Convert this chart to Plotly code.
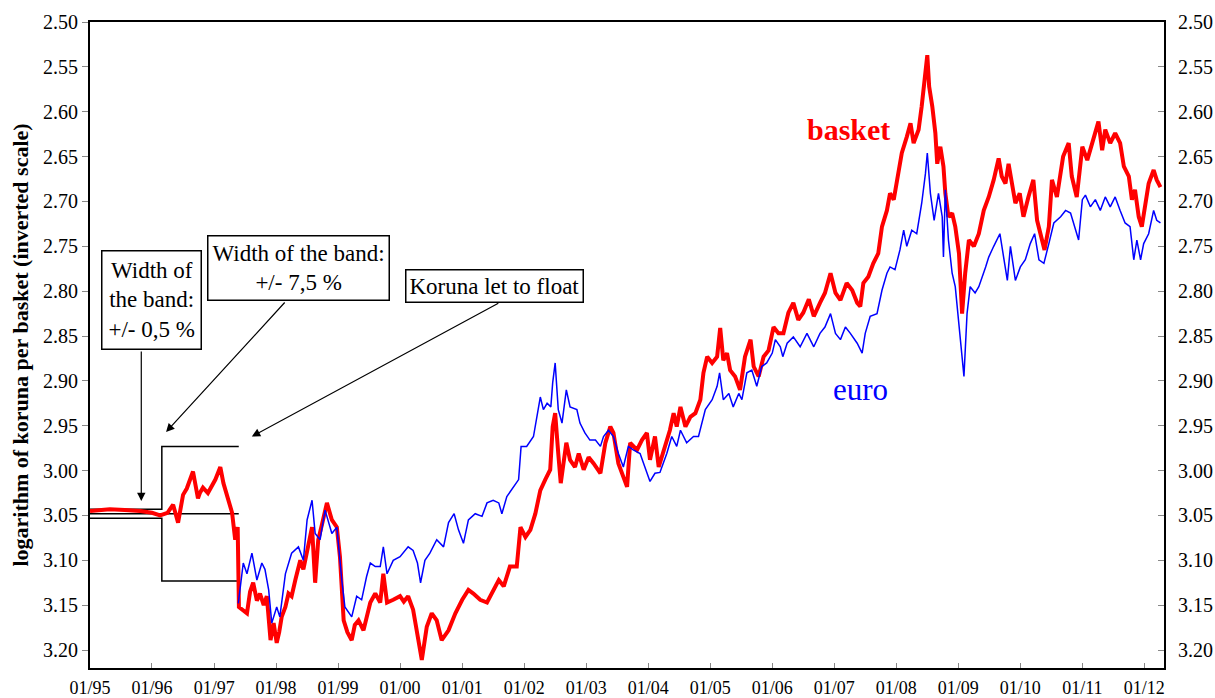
import pandas as pd
import plotly.graph_objects as go

# ---------------- data (decimal years, log koruna per basket) ----------------
basket_t = [1995.00, 1995.32, 1995.56, 1995.81, 1996.00, 1996.13, 1996.25, 1996.34, 1996.42, 1996.50,
            1996.56, 1996.66, 1996.74, 1996.77, 1996.82, 1996.90, 1997.02, 1997.10, 1997.15, 1997.21,
            1997.29, 1997.34, 1997.38, 1997.40, 1997.53, 1997.58, 1997.63, 1997.69, 1997.74, 1997.80,
            1997.85, 1997.91, 1997.96, 1998.01, 1998.05, 1998.09, 1998.15, 1998.20, 1998.25, 1998.31,
            1998.39, 1998.44, 1998.50, 1998.58, 1998.63, 1998.68, 1998.74, 1998.82, 1998.90, 1998.98,
            1999.03, 1999.09, 1999.15, 1999.22, 1999.27, 1999.33, 1999.41, 1999.47, 1999.52, 1999.60,
            1999.68, 1999.73, 1999.79, 1999.89, 2000.00, 2000.06, 2000.13, 2000.21, 2000.28, 2000.35,
            2000.43, 2000.51, 2000.59, 2000.67, 2000.78, 2000.89, 2001.00, 2001.10, 2001.18, 2001.29,
            2001.40, 2001.50, 2001.59, 2001.67, 2001.77, 2001.88, 2001.94, 2002.02, 2002.10, 2002.18,
            2002.26, 2002.34, 2002.42, 2002.46, 2002.50, 2002.55, 2002.59, 2002.68, 2002.74, 2002.82,
            2002.88, 2002.96, 2003.04, 2003.12, 2003.23, 2003.31, 2003.39, 2003.44, 2003.52, 2003.60,
            2003.66, 2003.71, 2003.82, 2003.90, 2003.98, 2004.03, 2004.11, 2004.17, 2004.27, 2004.35,
            2004.41, 2004.46, 2004.52, 2004.60, 2004.68, 2004.76, 2004.84, 2004.89, 2004.95, 2005.03,
            2005.11, 2005.16, 2005.21, 2005.27, 2005.32, 2005.40, 2005.48, 2005.56, 2005.65, 2005.70,
            2005.78, 2005.86, 2005.94, 2006.02, 2006.10, 2006.18, 2006.26, 2006.34, 2006.42, 2006.50,
            2006.59, 2006.67, 2006.77, 2006.85, 2006.94, 2007.02, 2007.10, 2007.20, 2007.29, 2007.37,
            2007.42, 2007.47, 2007.55, 2007.63, 2007.71, 2007.77, 2007.85, 2007.90, 2007.96, 2008.02,
            2008.09, 2008.17, 2008.23, 2008.28, 2008.36, 2008.41, 2008.47, 2008.50, 2008.53, 2008.58,
            2008.63, 2008.66, 2008.71, 2008.76, 2008.79, 2008.84, 2008.90, 2008.95, 2009.01, 2009.06,
            2009.11, 2009.17, 2009.25, 2009.33, 2009.41, 2009.49, 2009.57, 2009.65, 2009.70, 2009.76,
            2009.81, 2009.87, 2009.92, 2009.99, 2010.05, 2010.13, 2010.21, 2010.27, 2010.32, 2010.39,
            2010.46, 2010.51, 2010.59, 2010.69, 2010.78, 2010.83, 2010.91, 2011.00, 2011.08, 2011.16,
            2011.26, 2011.32, 2011.37, 2011.45, 2011.53, 2011.61, 2011.67, 2011.75, 2011.80, 2011.85,
            2011.91, 2011.96, 2012.02, 2012.07, 2012.15, 2012.20, 2012.26]
basket_v = [3.045, 3.043, 3.044, 3.045, 3.047, 3.050, 3.047, 3.038, 3.058, 3.027,
            3.020, 3.001, 3.031, 3.025, 3.019, 3.025, 3.010, 2.996, 3.014, 3.029,
            3.047, 3.077, 3.063, 3.152, 3.159, 3.135, 3.125, 3.145, 3.137, 3.150,
            3.140, 3.189, 3.170, 3.192, 3.180, 3.163, 3.152, 3.137, 3.140, 3.122,
            3.100, 3.110, 3.089, 3.063, 3.125, 3.077, 3.060, 3.036, 3.055, 3.063,
            3.096, 3.167, 3.180, 3.189, 3.172, 3.167, 3.178, 3.160, 3.147, 3.137,
            3.147, 3.115, 3.147, 3.144, 3.140, 3.146, 3.140, 3.155, 3.181, 3.211,
            3.174, 3.159, 3.167, 3.189, 3.178, 3.159, 3.144, 3.133, 3.137, 3.144,
            3.147, 3.133, 3.122, 3.129, 3.107, 3.107, 3.063, 3.074, 3.066, 3.048,
            3.022, 3.010, 2.999, 2.951, 2.936, 2.981, 3.014, 2.969, 2.988, 2.996,
            2.981, 2.999, 2.985, 2.992, 3.003, 2.969, 2.951, 2.958, 2.992, 3.007,
            3.018, 2.969, 2.977, 2.966, 2.958, 2.988, 2.962, 2.996, 2.973, 2.955,
            2.936, 2.951, 2.929, 2.951, 2.940, 2.936, 2.921, 2.891, 2.873, 2.880,
            2.873, 2.841, 2.877, 2.869, 2.888, 2.895, 2.910, 2.873, 2.854, 2.884,
            2.895, 2.873, 2.866, 2.840, 2.847, 2.847, 2.824, 2.813, 2.832, 2.824,
            2.809, 2.828, 2.813, 2.802, 2.780, 2.802, 2.810, 2.791, 2.799, 2.813,
            2.817, 2.791, 2.784, 2.769, 2.758, 2.728, 2.710, 2.691, 2.698, 2.676,
            2.646, 2.628, 2.613, 2.635, 2.620, 2.594, 2.557, 2.537, 2.572, 2.594,
            2.624, 2.658, 2.639, 2.661, 2.691, 2.717, 2.713, 2.728, 2.758, 2.825,
            2.780, 2.743, 2.750, 2.736, 2.710, 2.695, 2.676, 2.652, 2.672, 2.680,
            2.658, 2.684, 2.702, 2.691, 2.717, 2.695, 2.676, 2.721, 2.736, 2.754,
            2.728, 2.676, 2.695, 2.650, 2.635, 2.672, 2.695, 2.639, 2.654, 2.635,
            2.611, 2.643, 2.620, 2.635, 2.624, 2.635, 2.661, 2.672, 2.698, 2.687,
            2.717, 2.728, 2.698, 2.680, 2.665, 2.676, 2.684]

euro_t = [1997.39, 1997.47, 1997.53, 1997.61, 1997.69, 1997.77, 1997.82, 1997.88, 1997.93, 1998.01,
          1998.06, 1998.15, 1998.25, 1998.36, 1998.44, 1998.50, 1998.58, 1998.63, 1998.71, 1998.79,
          1998.90, 1998.98, 1999.06, 1999.11, 1999.22, 1999.30, 1999.38, 1999.46, 1999.52, 1999.60,
          1999.68, 1999.73, 1999.79, 1999.89, 2000.00, 2000.13, 2000.21, 2000.28, 2000.33, 2000.40,
          2000.48, 2000.59, 2000.70, 2000.78, 2000.87, 2000.94, 2001.02, 2001.10, 2001.21, 2001.32,
          2001.40, 2001.50, 2001.59, 2001.64, 2001.72, 2001.83, 2001.91, 2001.95, 2002.04, 2002.15,
          2002.20, 2002.26, 2002.31, 2002.37, 2002.43, 2002.46, 2002.50, 2002.55, 2002.61, 2002.68,
          2002.74, 2002.85, 2002.90, 2002.98, 2003.06, 2003.15, 2003.23, 2003.28, 2003.36, 2003.44,
          2003.52, 2003.60, 2003.68, 2003.76, 2003.87, 2003.95, 2004.03, 2004.11, 2004.19, 2004.30,
          2004.38, 2004.46, 2004.52, 2004.62, 2004.73, 2004.81, 2004.92, 2005.03, 2005.11, 2005.15,
          2005.21, 2005.30, 2005.37, 2005.46, 2005.51, 2005.59, 2005.67, 2005.75, 2005.83, 2005.91,
          2006.00, 2006.05, 2006.13, 2006.17, 2006.24, 2006.34, 2006.45, 2006.56, 2006.67, 2006.77,
          2006.85, 2006.94, 2007.02, 2007.10, 2007.18, 2007.26, 2007.37, 2007.45, 2007.50, 2007.58,
          2007.69, 2007.77, 2007.85, 2007.90, 2007.98, 2008.06, 2008.12, 2008.17, 2008.25, 2008.33,
          2008.41, 2008.47, 2008.50, 2008.55, 2008.61, 2008.68, 2008.74, 2008.76, 2008.79, 2008.84,
          2008.90, 2008.95, 2009.01, 2009.06, 2009.09, 2009.14, 2009.19, 2009.27, 2009.33, 2009.44,
          2009.49, 2009.57, 2009.67, 2009.73, 2009.79, 2009.84, 2009.92, 2010.00, 2010.08, 2010.16,
          2010.23, 2010.30, 2010.38, 2010.46, 2010.54, 2010.65, 2010.73, 2010.81, 2010.89, 2010.94,
          2011.00, 2011.05, 2011.13, 2011.21, 2011.29, 2011.37, 2011.45, 2011.53, 2011.61, 2011.69,
          2011.77, 2011.83, 2011.88, 2011.94, 2011.99, 2012.07, 2012.15, 2012.20, 2012.26]
euro_v = [3.148, 3.103, 3.115, 3.092, 3.122, 3.103, 3.110, 3.133, 3.170, 3.152,
          3.163, 3.115, 3.092, 3.085, 3.100, 3.055, 3.033, 3.070, 3.077, 3.044,
          3.070, 3.063, 3.122, 3.152, 3.163, 3.140, 3.144, 3.118, 3.103, 3.107,
          3.107, 3.085, 3.115, 3.100, 3.096, 3.085, 3.089, 3.103, 3.125, 3.100,
          3.092, 3.077, 3.085, 3.058, 3.048, 3.066, 3.081, 3.055, 3.048, 3.051,
          3.036, 3.033, 3.036, 3.048, 3.029, 3.018, 3.010, 2.973, 2.973, 2.962,
          2.944, 2.918, 2.932, 2.925, 2.929, 2.902, 2.880, 2.932, 2.947, 2.910,
          2.929, 2.932, 2.947, 2.958, 2.966, 2.966, 2.973, 2.962, 2.955, 2.962,
          2.981, 2.996, 2.973, 2.977, 2.981, 2.996, 3.012, 3.003, 3.002, 2.981,
          2.962, 2.973, 2.955, 2.969, 2.962, 2.962, 2.932, 2.921, 2.906, 2.891,
          2.921, 2.914, 2.929, 2.914, 2.921, 2.891, 2.888, 2.906, 2.884, 2.880,
          2.869, 2.854, 2.862, 2.873, 2.858, 2.851, 2.862, 2.847, 2.862, 2.847,
          2.840, 2.825, 2.847, 2.854, 2.840, 2.847, 2.858, 2.869, 2.847, 2.828,
          2.825, 2.799, 2.780, 2.773, 2.776, 2.754, 2.732, 2.750, 2.732, 2.736,
          2.702, 2.669, 2.646, 2.691, 2.721, 2.691, 2.717, 2.762, 2.687, 2.743,
          2.780, 2.795, 2.836, 2.873, 2.895, 2.825, 2.795, 2.802, 2.795, 2.773,
          2.762, 2.750, 2.736, 2.762, 2.788, 2.750, 2.788, 2.773, 2.765, 2.747,
          2.736, 2.765, 2.769, 2.747, 2.724, 2.717, 2.710, 2.713, 2.732, 2.743,
          2.698, 2.693, 2.706, 2.698, 2.710, 2.695, 2.706, 2.695, 2.710, 2.724,
          2.728, 2.765, 2.743, 2.765, 2.747, 2.736, 2.710, 2.721, 2.724]

# exchange-rate band: regime dates, central parity and half-widths
band_dates = ["1995-01-01", "1996-02-28", "1997-05-26"]
central_parity = 3.048
narrow_halfwidth = 0.005
wide_halfwidth = 0.075

y_ticks = [2.50, 2.55, 2.60, 2.65, 2.70, 2.75, 2.80, 2.85, 2.90, 2.95, 3.00, 3.05, 3.10, 3.15, 3.20]
x_ticks = [f"{y}-01-01" for y in range(1995, 2013)]
x_labels = [f"01/{str(y)[2:]}" for y in range(1995, 2013)]


def to_date(t):
    y = int(t)
    start = pd.Timestamp(y, 1, 1)
    end = pd.Timestamp(y + 1, 1, 1)
    return start + (end - start) * (t - y)


basket_x = [to_date(t) for t in basket_t]
euro_x = [to_date(t) for t in euro_t]

FONT = "Liberation Serif"
fig = go.Figure()

# band lines
d0, d1, d2 = band_dates
up_n = central_parity - narrow_halfwidth
lo_n = central_parity + narrow_halfwidth
up_w = central_parity - wide_halfwidth
lo_w = central_parity + wide_halfwidth
band_style = dict(color="black", width=1.5)
fig.add_trace(go.Scatter(x=[d0, d1, d1, d2], y=[up_n, up_n, up_w, up_w], mode="lines",
                         line=band_style, hoverinfo="skip", showlegend=False))
fig.add_trace(go.Scatter(x=[d0, d1, d1, d2], y=[lo_n, lo_n, lo_w, lo_w], mode="lines",
                         line=band_style, hoverinfo="skip", showlegend=False))
fig.add_trace(go.Scatter(x=[d0, d2], y=[central_parity, central_parity], mode="lines",
                         line=band_style, hoverinfo="skip", showlegend=False))

fig.add_trace(go.Scatter(x=basket_x, y=basket_v, mode="lines", name="basket",
                         line=dict(color="#ff0000", width=4), showlegend=False))
fig.add_trace(go.Scatter(x=euro_x, y=euro_v, mode="lines", name="euro", yaxis="y2",
                         line=dict(color="#0000ff", width=1.5), showlegend=False))

yax = dict(range=[3.22, 2.50], tickvals=y_ticks, tickformat=".2f", automargin=False,
           showgrid=False, zeroline=False, showline=True, linecolor="black", linewidth=2,
           tickfont=dict(family=FONT, size=20, color="black"), tickcolor="#888", ticklen=6)

fig.update_layout(
    width=1215, height=698,
    margin=dict(l=90, r=51, t=22, b=30),
    paper_bgcolor="white", plot_bgcolor="white",
    font=dict(family=FONT, color="black"),
    xaxis=dict(range=["1995-01-01", "2012-04-26"], tickvals=x_ticks, ticktext=x_labels,
               automargin=False,
               showgrid=False, zeroline=False, showline=True, mirror=True,
               linecolor="black", linewidth=2, ticks="inside", ticklen=5, tickcolor="#888",
               ticklabelstandoff=2,
               tickfont=dict(family=FONT, size=18, color="black")),
    yaxis=dict(**yax, side="left", ticks="outside",
               title=dict(text="<b>logarithm of koruna per basket (inverted scale)</b>",
                          font=dict(family=FONT, size=22, color="black"), standoff=8)),
    yaxis2=dict(**yax, side="right", overlaying="y", ticks="inside", ticklabelstandoff=8),
)

ann_font = dict(family=FONT, size=23, color="black")
boxes = [
    ("1995-12-28", 2.810, "Width of<br>the band:<br>+/- 0,5 %", 6),
    ("1998-05-10", 2.774, "Width of the band:<br>+/- 7,5 %", 4),
    ("2001-07-13", 2.794, "Koruna let to float", 3),
]
for x, y, txt, pad in boxes:
    fig.add_annotation(x=x, y=y, xref="x", yref="y", text=txt, showarrow=False,
                       font=ann_font, bgcolor="white", bordercolor="black",
                       borderwidth=1.5, borderpad=pad)

arrows = [
    ("1995-10-30", 3.034, 0, -151),
    ("1996-03-24", 2.957, 120, -131),
    ("1997-08-11", 2.962, 248, -134),
]
for x, y, ax, ay in arrows:
    fig.add_annotation(x=x, y=y, xref="x", yref="y", ax=ax, ay=ay, text="",
                       showarrow=True, arrowhead=2, arrowsize=1.4, arrowwidth=1.2,
                       arrowcolor="black", standoff=0, startstandoff=0)

fig.add_annotation(x="2007-03-28", y=2.620, xref="x", yref="y", text="<b>basket</b>",
                   showarrow=False, font=dict(family=FONT, size=30, color="#ff0000"))
fig.add_annotation(x="2007-06-03", y=2.910, xref="x", yref="y", text="euro",
                   showarrow=False, font=dict(family=FONT, size=31, color="#0000ff"))

fig.write_html("out.html", config={"displayModeBar": False},
               post_script="document.body.style.margin='0';document.body.style.overflow='hidden';")
